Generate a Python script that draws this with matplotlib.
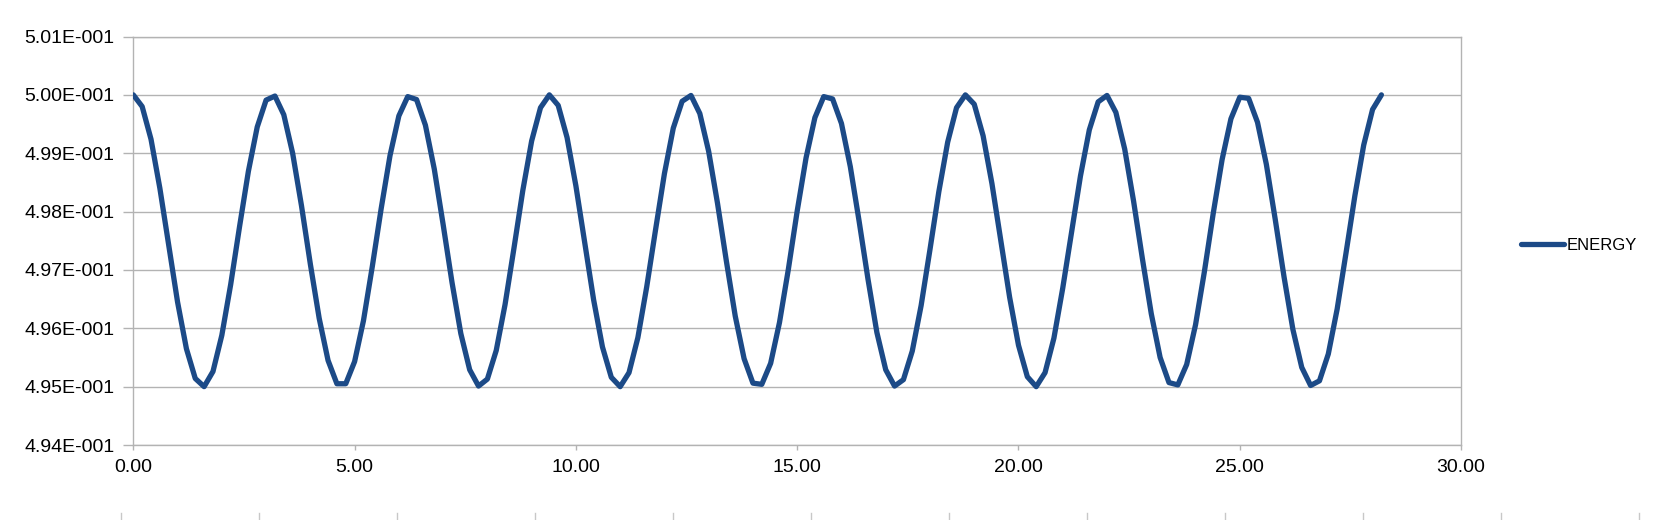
import matplotlib
matplotlib.use("Agg")
import matplotlib.pyplot as plt
from matplotlib.lines import Line2D
from matplotlib.ticker import FuncFormatter, FormatStrFormatter, MultipleLocator

plt.rcParams["font.family"] = ["Liberation Sans", "DejaVu Sans"]

# time column (one row every 0.2)
time = [
    0.0, 0.2, 0.4, 0.6, 0.8, 1.0, 1.2, 1.4, 1.6, 1.8,
    2.0, 2.2, 2.4, 2.6, 2.8, 3.0, 3.2, 3.4, 3.6, 3.8,
    4.0, 4.2, 4.4, 4.6, 4.8, 5.0, 5.2, 5.4, 5.6, 5.8,
    6.0, 6.2, 6.4, 6.6, 6.8, 7.0, 7.2, 7.4, 7.6, 7.8,
    8.0, 8.2, 8.4, 8.6, 8.8, 9.0, 9.2, 9.4, 9.6, 9.8,
    10.0, 10.2, 10.4, 10.6, 10.8, 11.0, 11.2, 11.4, 11.6, 11.8,
    12.0, 12.2, 12.4, 12.6, 12.8, 13.0, 13.2, 13.4, 13.6, 13.8,
    14.0, 14.2, 14.4, 14.6, 14.8, 15.0, 15.2, 15.4, 15.6, 15.8,
    16.0, 16.2, 16.4, 16.6, 16.8, 17.0, 17.2, 17.4, 17.6, 17.8,
    18.0, 18.2, 18.4, 18.6, 18.8, 19.0, 19.2, 19.4, 19.6, 19.8,
    20.0, 20.2, 20.4, 20.6, 20.8, 21.0, 21.2, 21.4, 21.6, 21.8,
    22.0, 22.2, 22.4, 22.6, 22.8, 23.0, 23.2, 23.4, 23.6, 23.8,
    24.0, 24.2, 24.4, 24.6, 24.8, 25.0, 25.2, 25.4, 25.6, 25.8,
    26.0, 26.2, 26.4, 26.6, 26.8, 27.0, 27.2, 27.4, 27.6, 27.8,
    28.0, 28.2,
]

energy = [
    0.50000, 0.49980, 0.49924, 0.49840, 0.49742, 0.49645, 0.49565, 0.49514, 0.49500, 0.49526,
    0.49588, 0.49675, 0.49774, 0.49869, 0.49945, 0.49991, 0.49998, 0.49966, 0.49900, 0.49810,
    0.49710, 0.49617, 0.49545, 0.49505, 0.49505, 0.49543, 0.49613, 0.49706, 0.49805, 0.49896,
    0.49964, 0.49997, 0.49992, 0.49948, 0.49873, 0.49778, 0.49679, 0.49591, 0.49529, 0.49501,
    0.49513, 0.49562, 0.49641, 0.49737, 0.49836, 0.49921, 0.49978, 0.50000, 0.49982, 0.49927,
    0.49844, 0.49747, 0.49649, 0.49568, 0.49516, 0.49500, 0.49524, 0.49584, 0.49671, 0.49769,
    0.49865, 0.49943, 0.49989, 0.49999, 0.49968, 0.49903, 0.49814, 0.49715, 0.49621, 0.49548,
    0.49506, 0.49504, 0.49540, 0.49610, 0.49701, 0.49801, 0.49892, 0.49961, 0.49997, 0.49993,
    0.49951, 0.49877, 0.49783, 0.49684, 0.49593, 0.49529, 0.49501, 0.49512, 0.49561, 0.49639,
    0.49735, 0.49834, 0.49919, 0.49978, 0.50000, 0.49984, 0.49930, 0.49848, 0.49751, 0.49653,
    0.49571, 0.49517, 0.49500, 0.49524, 0.49583, 0.49669, 0.49765, 0.49861, 0.49940, 0.49988,
    0.49999, 0.49970, 0.49907, 0.49818, 0.49719, 0.49625, 0.49550, 0.49507, 0.49503, 0.49538,
    0.49606, 0.49697, 0.49797, 0.49889, 0.49959, 0.49996, 0.49994, 0.49953, 0.49881, 0.49787,
    0.49688, 0.49598, 0.49533, 0.49502, 0.49510, 0.49556, 0.49633, 0.49729, 0.49827, 0.49914,
    0.49975, 0.50000,
]

series_name = "ENERGY"
line_color = "#1c4a87"
grid_color = "#b3b3b3"
tick_size = 14
legend_size = 12


def sci_label(v, pos):
    # spreadsheet style: 5.01E-001
    mant, exp = f"{v:.2E}".split("E")
    return f"{mant}E{int(exp):+04d}"


fig = plt.figure(figsize=(16.56, 5.2), dpi=100)
ax = fig.add_axes([0.0805, 0.1442, 0.8018, 0.7856])

ax.plot(time, energy, color=line_color, lw=3.8, label=series_name,
        solid_joinstyle="round", solid_capstyle="round", zorder=3)

ax.set_xlim(0, 30)
ax.set_ylim(0.494, 0.501)
ax.xaxis.set_major_locator(MultipleLocator(5))
ax.xaxis.set_major_formatter(FormatStrFormatter("%.2f"))
ax.yaxis.set_major_locator(MultipleLocator(0.001))
ax.yaxis.set_major_formatter(FuncFormatter(sci_label))

ax.grid(axis="y", color=grid_color, lw=1.0)
ax.set_axisbelow(True)
for sp in ax.spines.values():
    sp.set_color(grid_color)
    sp.set_linewidth(1.0)

ax.tick_params(axis="y", direction="out", length=7, width=1.0, color=grid_color,
               pad=6.5, labelsize=tick_size, labelcolor="black")
ax.tick_params(axis="x", direction="out", length=3.5, width=1.0, color=grid_color,
               pad=6.5, labelsize=tick_size, labelcolor="black")

ax.legend(loc="center left", bbox_to_anchor=(0.9185, 0.5288),
          bbox_transform=fig.transFigure, frameon=False, fontsize=legend_size,
          handlelength=2.6, handletextpad=0.15, borderpad=0, borderaxespad=0)

# little cell-boundary marks along the bottom edge
for px in range(121, 1656, 138):
    fig.add_artist(Line2D([px / 1656, px / 1656], [0.0, 7 / 520],
                          transform=fig.transFigure, color="#c8c8c8", lw=1.0))

fig.savefig("out.png", dpi=100)
